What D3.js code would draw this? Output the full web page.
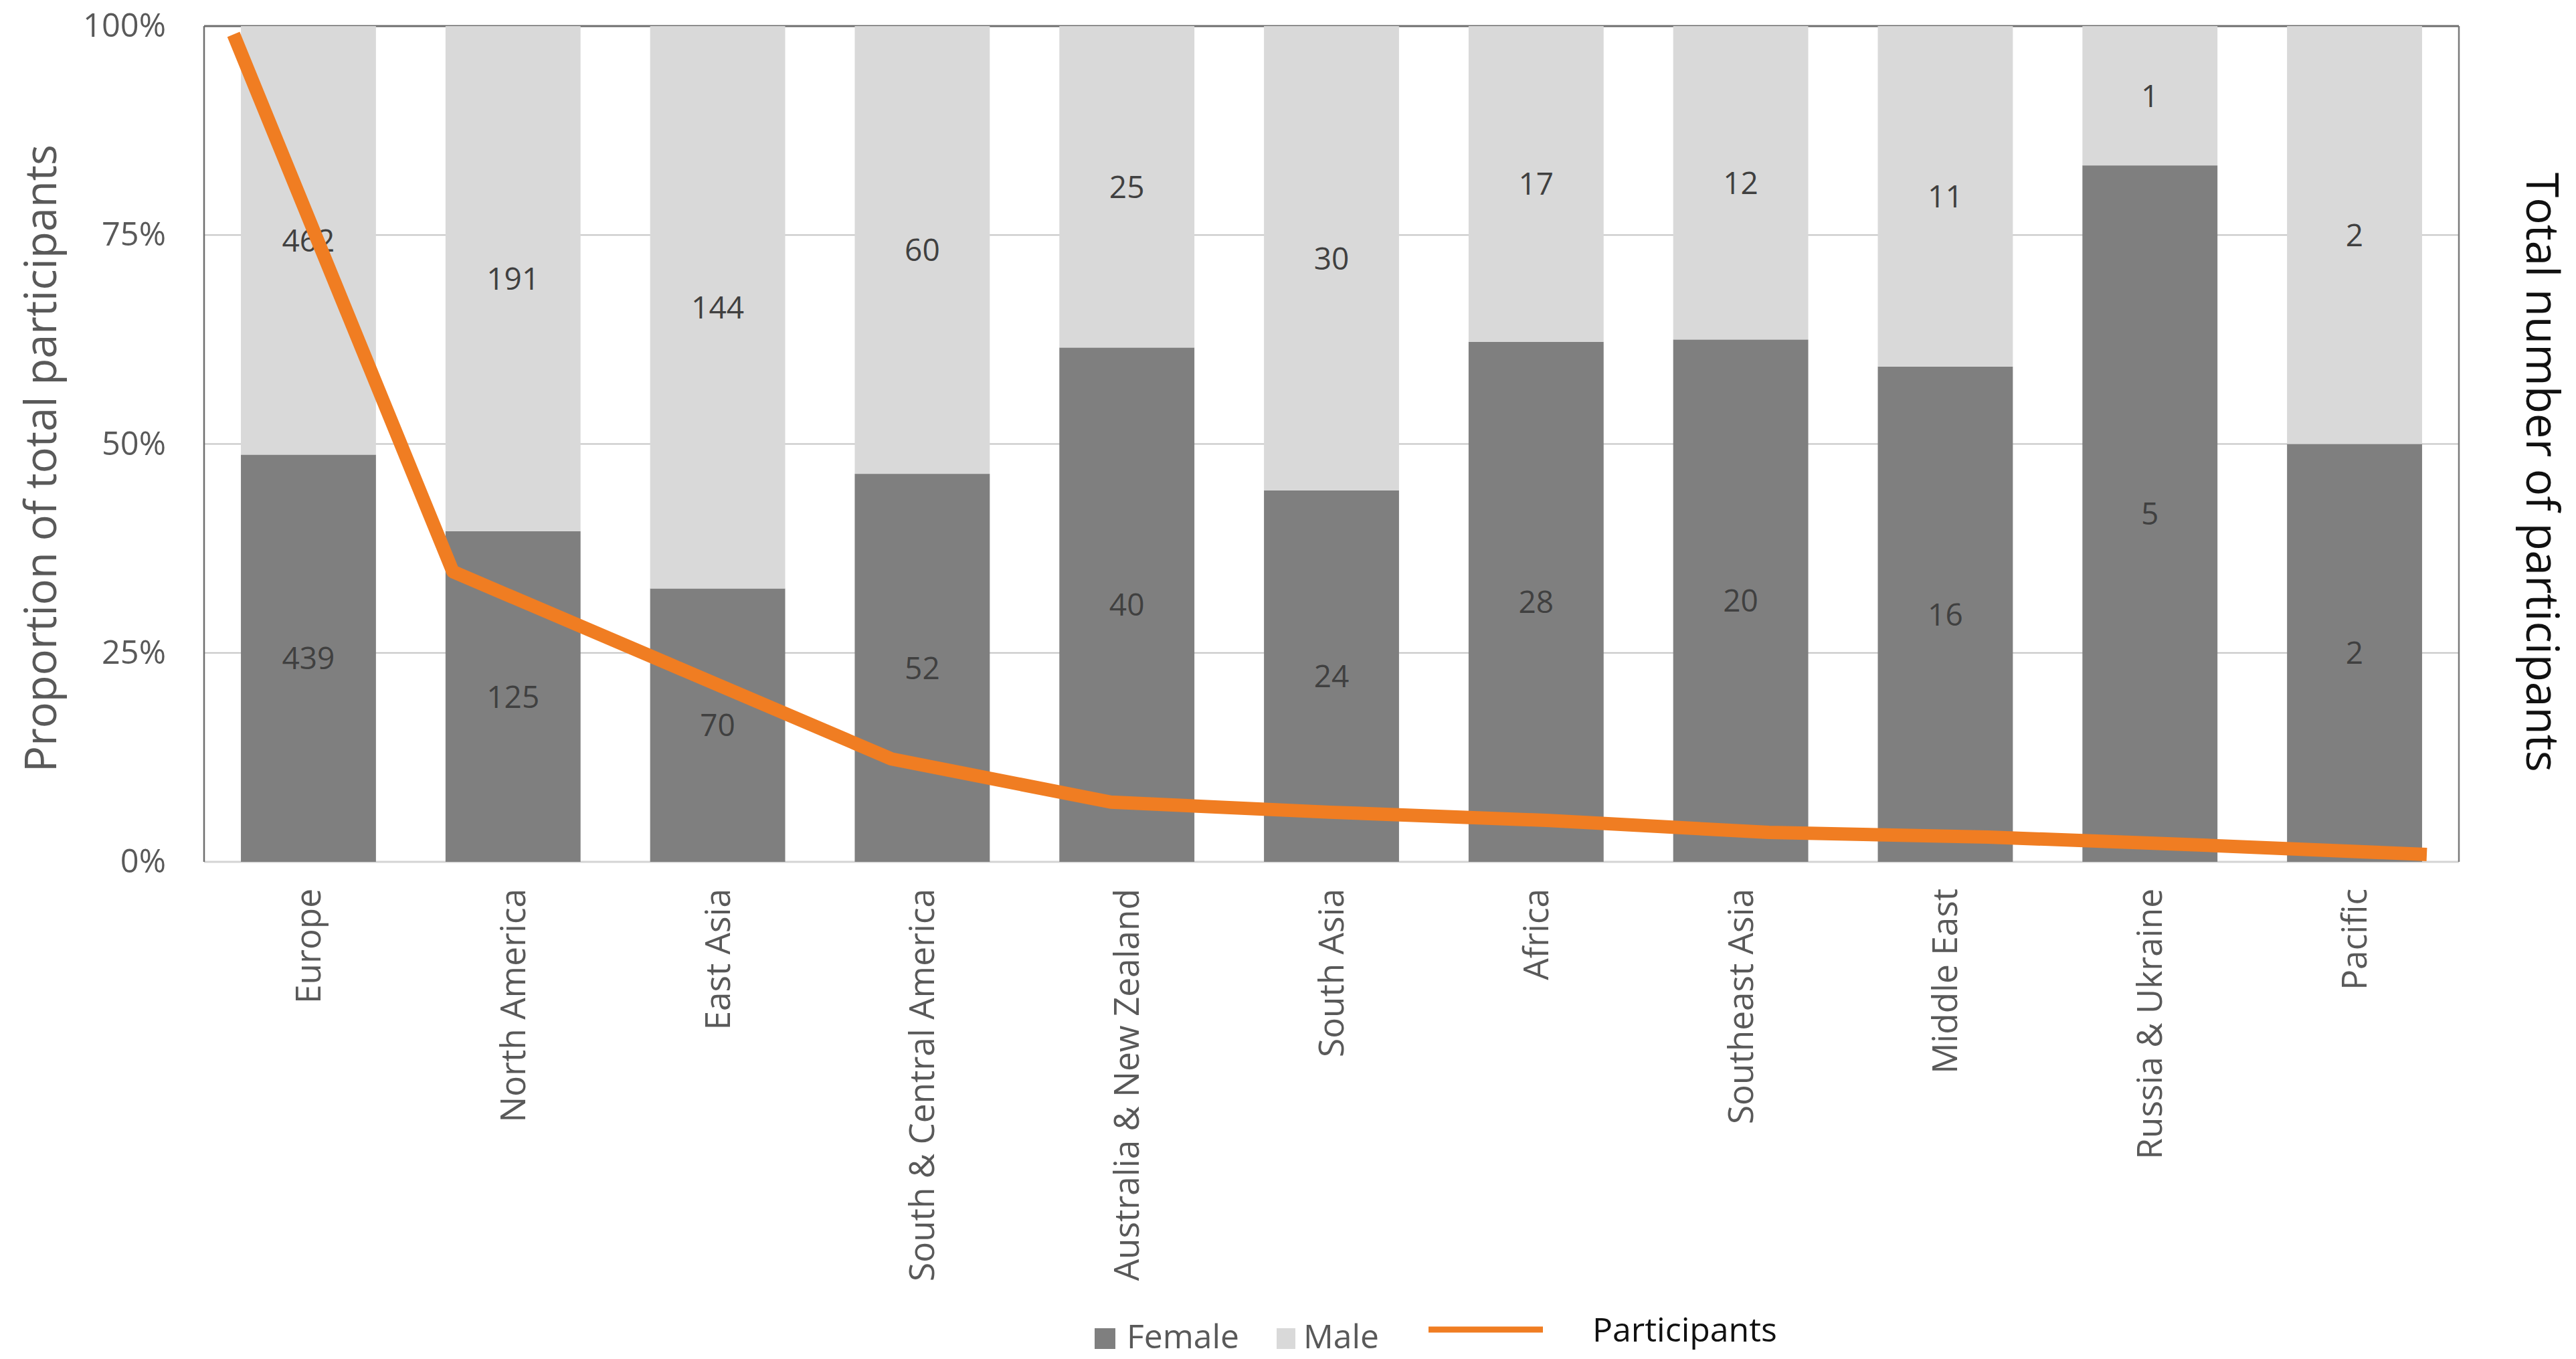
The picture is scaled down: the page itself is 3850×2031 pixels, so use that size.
<!DOCTYPE html>
<html><head><meta charset="utf-8">
<script src="https://cdn.jsdelivr.net/npm/d3@7"></script>
<style>body{margin:0;background:#fff;} svg{display:block;}</style>
</head><body>
<script>
// ---- data ----
const categories = ["Europe","North America","East Asia","South & Central America","Australia & New Zealand","South Asia","Africa","Southeast Asia","Middle East","Russia & Ukraine","Pacific"];
const female = [439,125,70,52,40,24,28,20,16,5,2];
const male = [462,191,144,60,25,30,17,12,11,1,2];
const participants = [901,316,214,112,65,54,45,32,27,18,8];
const yTicks = [0,0.25,0.5,0.75,1];
const yTickLabels = ["0%","25%","50%","75%","100%"];
const seriesNames = ["Female","Male"];
const lineName = "Participants";
const leftTitle = "Proportion of total participants";
const rightTitle = "Total number of participants";

// ---- layout ----
const W = 3850, H = 2031;
const P = {left:305, right:3675, top:39, bottom:1288};
const FONT = "'Open Sans', sans-serif";
const colors = {Female:"#7f7f7f", Male:"#d9d9d9"};
const ORANGE = "#f07d22";

const svg = d3.select("body").append("svg").attr("width", W).attr("height", H)
  .style("font-family", FONT);

const x = d3.scaleBand().domain(categories).range([P.left, P.right]).paddingInner(0.34).paddingOuter(0.18);
const y = d3.scaleLinear().domain([0,1]).range([P.bottom, P.top]);
const xLine = d3.scalePoint().domain(categories).range([P.left + 44, P.right - 48]);
const y2 = d3.scaleLinear().domain([0, 910]).range([P.bottom, P.top]);

function fit(sel, target){
  const n = sel.node();
  const w = n.getComputedTextLength();
  const fs = parseFloat(sel.attr("font-size"));
  const nf = fs * target / w;
  sel.attr("font-size", nf);
  return nf;
}

// gridlines
svg.append("g").selectAll("line").data(yTicks.filter(t => t > 0 && t < 1)).join("line")
  .attr("x1", P.left).attr("x2", P.right)
  .attr("y1", d => y(d)).attr("y2", d => y(d))
  .attr("stroke", "#c4c4c4").attr("stroke-width", 2);

// frame
const frame = svg.append("g");
frame.append("line").attr("x1", P.left).attr("x2", P.right).attr("y1", y(1)).attr("y2", y(1))
  .attr("stroke", "#6e6e6e").attr("stroke-width", 3);
frame.append("line").attr("x1", P.left).attr("x2", P.right).attr("y1", y(0)).attr("y2", y(0))
  .attr("stroke", "#d4d4d4").attr("stroke-width", 3);
frame.append("line").attr("x1", P.left).attr("x2", P.left).attr("y1", y(1)).attr("y2", y(0))
  .attr("stroke", "#6e6e6e").attr("stroke-width", 2.5);
frame.append("line").attr("x1", P.right).attr("x2", P.right).attr("y1", y(1)).attr("y2", y(0))
  .attr("stroke", "#7a7a7a").attr("stroke-width", 2.5);

// stacked 100% bars
const rows = categories.map((c, i) => ({cat:c, Female:female[i], Male:male[i]}));
const stack = d3.stack().keys(seriesNames).offset(d3.stackOffsetExpand);
const series = stack(rows);

const gBars = svg.append("g");
series.forEach(s => {
  gBars.append("g").selectAll("rect").data(s).join("rect")
    .attr("x", d => x(d.data.cat))
    .attr("width", x.bandwidth())
    .attr("y", d => y(d[1]))
    .attr("height", d => y(d[0]) - y(d[1]))
    .attr("fill", colors[s.key]);
});

// data labels
const gLab = svg.append("g");
series.forEach(s => {
  gLab.append("g").selectAll("text").data(s).join("text")
    .attr("x", d => x(d.data.cat) + x.bandwidth()/2)
    .attr("y", d => y((d[0] + d[1]) / 2))
    .attr("dy", "0.36em")
    .attr("text-anchor", "middle")
    .attr("fill", "#404040")
    .attr("font-size", 44)
    .text(d => d.data[s.key]);
});
{
  const ref = gLab.selectAll("text").filter(function(){ return this.textContent === String(male[0]); });
  const nf = fit(ref, 79);
  gLab.selectAll("text").attr("font-size", nf);
}

// participants line
const line = d3.line().x((d, i) => xLine(categories[i])).y(d => y2(d));
svg.append("path").datum(participants)
  .attr("d", line)
  .attr("fill", "none")
  .attr("stroke", ORANGE)
  .attr("stroke-width", 20)
  .attr("stroke-linejoin", "round")
  .attr("stroke-linecap", "butt");

// left y axis labels
const yAxis = d3.axisLeft(y).tickValues(yTicks).tickSize(0).tickPadding(0)
  .tickFormat((d, i) => yTickLabels[i]);
const gy = svg.append("g").attr("transform", `translate(${248},0)`).call(yAxis);
gy.select(".domain").remove();
gy.selectAll("text").attr("font-family", FONT).attr("fill", "#595959").attr("font-size", 46);
{
  const ref = gy.selectAll("text").filter(function(){ return this.textContent === "100%"; });
  const nf = fit(ref, 124);
  gy.selectAll("text").attr("font-size", nf);
}

// x axis labels (rotated)
const xAxis = d3.axisBottom(x).tickSize(0).tickPadding(0);
const gx = svg.append("g").attr("transform", `translate(0,${P.bottom})`).call(xAxis);
gx.select(".domain").remove();
gx.selectAll("text")
  .attr("font-family", FONT).attr("fill", "#595959").attr("font-size", 44)
  .attr("text-anchor", "end")
  .attr("transform", "translate(0,40) rotate(-90)")
  .attr("x", 0).attr("y", 0).attr("dy", "0.35em");
{
  const ref = gx.selectAll("text").filter(function(){ return this.textContent === "South & Central America"; });
  const nf = fit(ref, 587);
  gx.selectAll("text").attr("font-size", nf);
}

// axis titles
const lt = svg.append("text")
  .attr("transform", `translate(61,685) rotate(-90)`)
  .attr("text-anchor", "middle").attr("dy", "0.35em")
  .attr("fill", "#595959").attr("font-size", 56).text(leftTitle);
fit(lt, 938);
const rt = svg.append("text")
  .attr("transform", `translate(3800,706) rotate(90)`)
  .attr("text-anchor", "middle").attr("dy", "0.35em")
  .attr("fill", "#111").attr("font-size", 56).text(rightTitle);
fit(rt, 896);

// legend
const lg = svg.append("g");
lg.append("rect").attr("x", 1636).attr("y", 1985).attr("width", 31).attr("height", 31).attr("fill", colors.Female);
const tf = lg.append("text").attr("x", 1684).attr("y", 2015).attr("fill", "#595959").attr("font-size", 44).text(seriesNames[0]);
const lfs = fit(tf, 168);
lg.append("rect").attr("x", 1908).attr("y", 1985).attr("width", 28).attr("height", 31).attr("fill", colors.Male);
lg.append("text").attr("x", 1948).attr("y", 2015).attr("fill", "#595959").attr("font-size", lfs).text(seriesNames[1]);
lg.append("line").attr("x1", 2135).attr("x2", 2306).attr("y1", 1987).attr("y2", 1987)
  .attr("stroke", ORANGE).attr("stroke-width", 9);
const tp = lg.append("text").attr("x", 2380).attr("y", 2005).attr("fill", "#111").attr("font-size", 48).text(lineName);
fit(tp, 276);
</script>
</body></html>
